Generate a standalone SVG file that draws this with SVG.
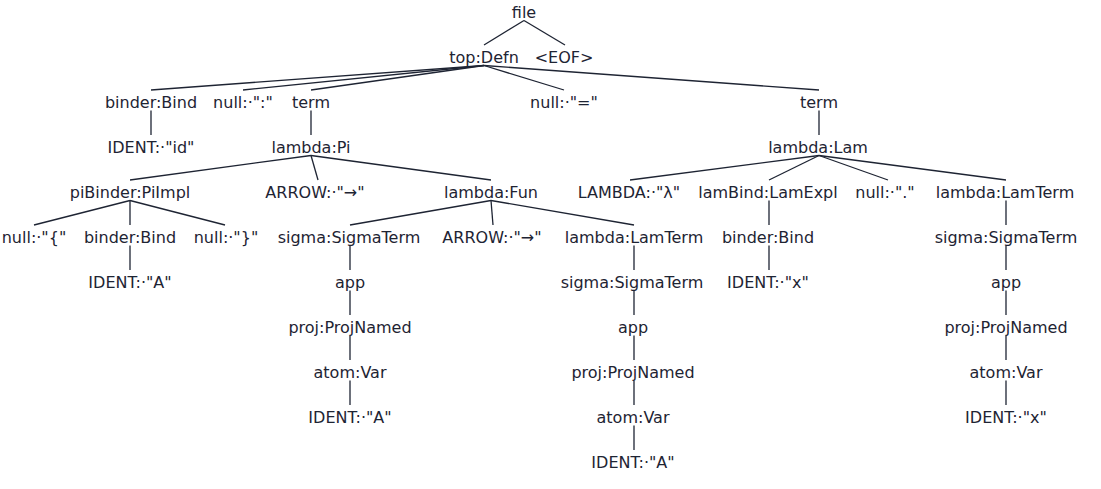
<svg xmlns="http://www.w3.org/2000/svg" width="1101" height="489" viewBox="0 0 1101 489">
<style>
text{font-family:"DejaVu Sans","Liberation Sans",sans-serif;font-size:16px;fill:#1e2433;text-anchor:middle}
#edges line{stroke:#1e2433;stroke-width:1.3;fill:none}
</style>
<rect width="1101" height="489" fill="#ffffff"/>
<g id="edges">
<line x1="524" y1="20.5" x2="484" y2="45"/>
<line x1="524" y1="20.5" x2="565" y2="45"/>
<line x1="484" y1="65.5" x2="151" y2="90"/>
<line x1="484" y1="65.5" x2="243" y2="90"/>
<line x1="484" y1="65.5" x2="311" y2="90"/>
<line x1="484" y1="65.5" x2="564" y2="90"/>
<line x1="484" y1="65.5" x2="819" y2="90"/>
<line x1="151" y1="110.5" x2="151" y2="135"/>
<line x1="311" y1="110.5" x2="311" y2="135"/>
<line x1="819" y1="110.5" x2="819" y2="135"/>
<line x1="311" y1="155.5" x2="130" y2="180"/>
<line x1="311" y1="155.5" x2="318" y2="180"/>
<line x1="311" y1="155.5" x2="491" y2="180"/>
<line x1="819" y1="155.5" x2="630" y2="180"/>
<line x1="819" y1="155.5" x2="769" y2="180"/>
<line x1="819" y1="155.5" x2="888" y2="180"/>
<line x1="819" y1="155.5" x2="1006" y2="180"/>
<line x1="130" y1="200.5" x2="34" y2="225"/>
<line x1="130" y1="200.5" x2="130" y2="225"/>
<line x1="130" y1="200.5" x2="225" y2="225"/>
<line x1="491" y1="200.5" x2="350" y2="225"/>
<line x1="491" y1="200.5" x2="493" y2="225"/>
<line x1="491" y1="200.5" x2="634" y2="225"/>
<line x1="769" y1="200.5" x2="769" y2="225"/>
<line x1="1006" y1="200.5" x2="1006" y2="225"/>
<line x1="130" y1="245.5" x2="130" y2="270"/>
<line x1="350" y1="245.5" x2="350" y2="270"/>
<line x1="634" y1="245.5" x2="634" y2="270"/>
<line x1="769" y1="245.5" x2="769" y2="270"/>
<line x1="1006" y1="245.5" x2="1006" y2="270"/>
<line x1="350" y1="290.5" x2="350" y2="315"/>
<line x1="634" y1="290.5" x2="634" y2="315"/>
<line x1="1006" y1="290.5" x2="1006" y2="315"/>
<line x1="350" y1="335.5" x2="350" y2="360"/>
<line x1="634" y1="335.5" x2="634" y2="360"/>
<line x1="1006" y1="335.5" x2="1006" y2="360"/>
<line x1="350" y1="380.5" x2="350" y2="405"/>
<line x1="634" y1="380.5" x2="634" y2="405"/>
<line x1="1006" y1="380.5" x2="1006" y2="405"/>
<line x1="634" y1="425.5" x2="634" y2="450"/>
</g>
<g id="n_file"><text x="524" y="17.5">file</text></g>
<g id="n_topDefn"><text x="484" y="62.5">top:Defn</text></g>
<g id="n_eof"><text x="564" y="62.5">&lt;EOF&gt;</text></g>
<g id="n_binder1"><text x="151" y="107.5">binder:Bind</text></g>
<g id="n_colon"><text x="243" y="107.5">null:·":"</text></g>
<g id="n_term1"><text x="311" y="107.5">term</text></g>
<g id="n_eq"><text x="564" y="107.5">null:·"="</text></g>
<g id="n_term2"><text x="819" y="107.5">term</text></g>
<g id="n_ident_id"><text x="151" y="152.5">IDENT:·"id"</text></g>
<g id="n_pi"><text x="311" y="152.5">lambda:Pi</text></g>
<g id="n_lam"><text x="818" y="152.5">lambda:Lam</text></g>
<g id="n_pibinder"><text x="130" y="197.5">piBinder:PiImpl</text></g>
<g id="n_arrow1"><text x="315" y="197.5">ARROW:·"→"</text></g>
<g id="n_fun"><text x="491" y="197.5">lambda:Fun</text></g>
<g id="n_lambda_tok"><text x="629" y="197.5">LAMBDA:·"λ"</text></g>
<g id="n_lambind"><text x="768" y="197.5">lamBind:LamExpl</text></g>
<g id="n_dot"><text x="885" y="197.5">null:·"."</text></g>
<g id="n_lamterm2"><text x="1005" y="197.5">lambda:LamTerm</text></g>
<g id="n_lbrace"><text x="34" y="242.5">null:·"{"</text></g>
<g id="n_binder2"><text x="130" y="242.5">binder:Bind</text></g>
<g id="n_rbrace"><text x="226" y="242.5">null:·"}"</text></g>
<g id="n_sigma1"><text x="349" y="242.5">sigma:SigmaTerm</text></g>
<g id="n_arrow2"><text x="492" y="242.5">ARROW:·"→"</text></g>
<g id="n_lamterm1"><text x="634" y="242.5">lambda:LamTerm</text></g>
<g id="n_binder3"><text x="768" y="242.5">binder:Bind</text></g>
<g id="n_sigma3"><text x="1006" y="242.5">sigma:SigmaTerm</text></g>
<g id="n_identA1"><text x="130" y="287.5">IDENT:·"A"</text></g>
<g id="n_app1"><text x="350" y="287.5">app</text></g>
<g id="n_sigma2"><text x="632" y="287.5">sigma:SigmaTerm</text></g>
<g id="n_identx1"><text x="768" y="287.5">IDENT:·"x"</text></g>
<g id="n_app3"><text x="1006" y="287.5">app</text></g>
<g id="n_proj1"><text x="350" y="332.5">proj:ProjNamed</text></g>
<g id="n_app2"><text x="633" y="332.5">app</text></g>
<g id="n_proj3"><text x="1006" y="332.5">proj:ProjNamed</text></g>
<g id="n_atom1"><text x="350" y="377.5">atom:Var</text></g>
<g id="n_proj2"><text x="633" y="377.5">proj:ProjNamed</text></g>
<g id="n_atom3"><text x="1006" y="377.5">atom:Var</text></g>
<g id="n_identA2"><text x="350" y="422.5">IDENT:·"A"</text></g>
<g id="n_atom2"><text x="633" y="422.5">atom:Var</text></g>
<g id="n_identx2"><text x="1006" y="422.5">IDENT:·"x"</text></g>
<g id="n_identA3"><text x="633" y="468">IDENT:·"A"</text></g>
</svg>
